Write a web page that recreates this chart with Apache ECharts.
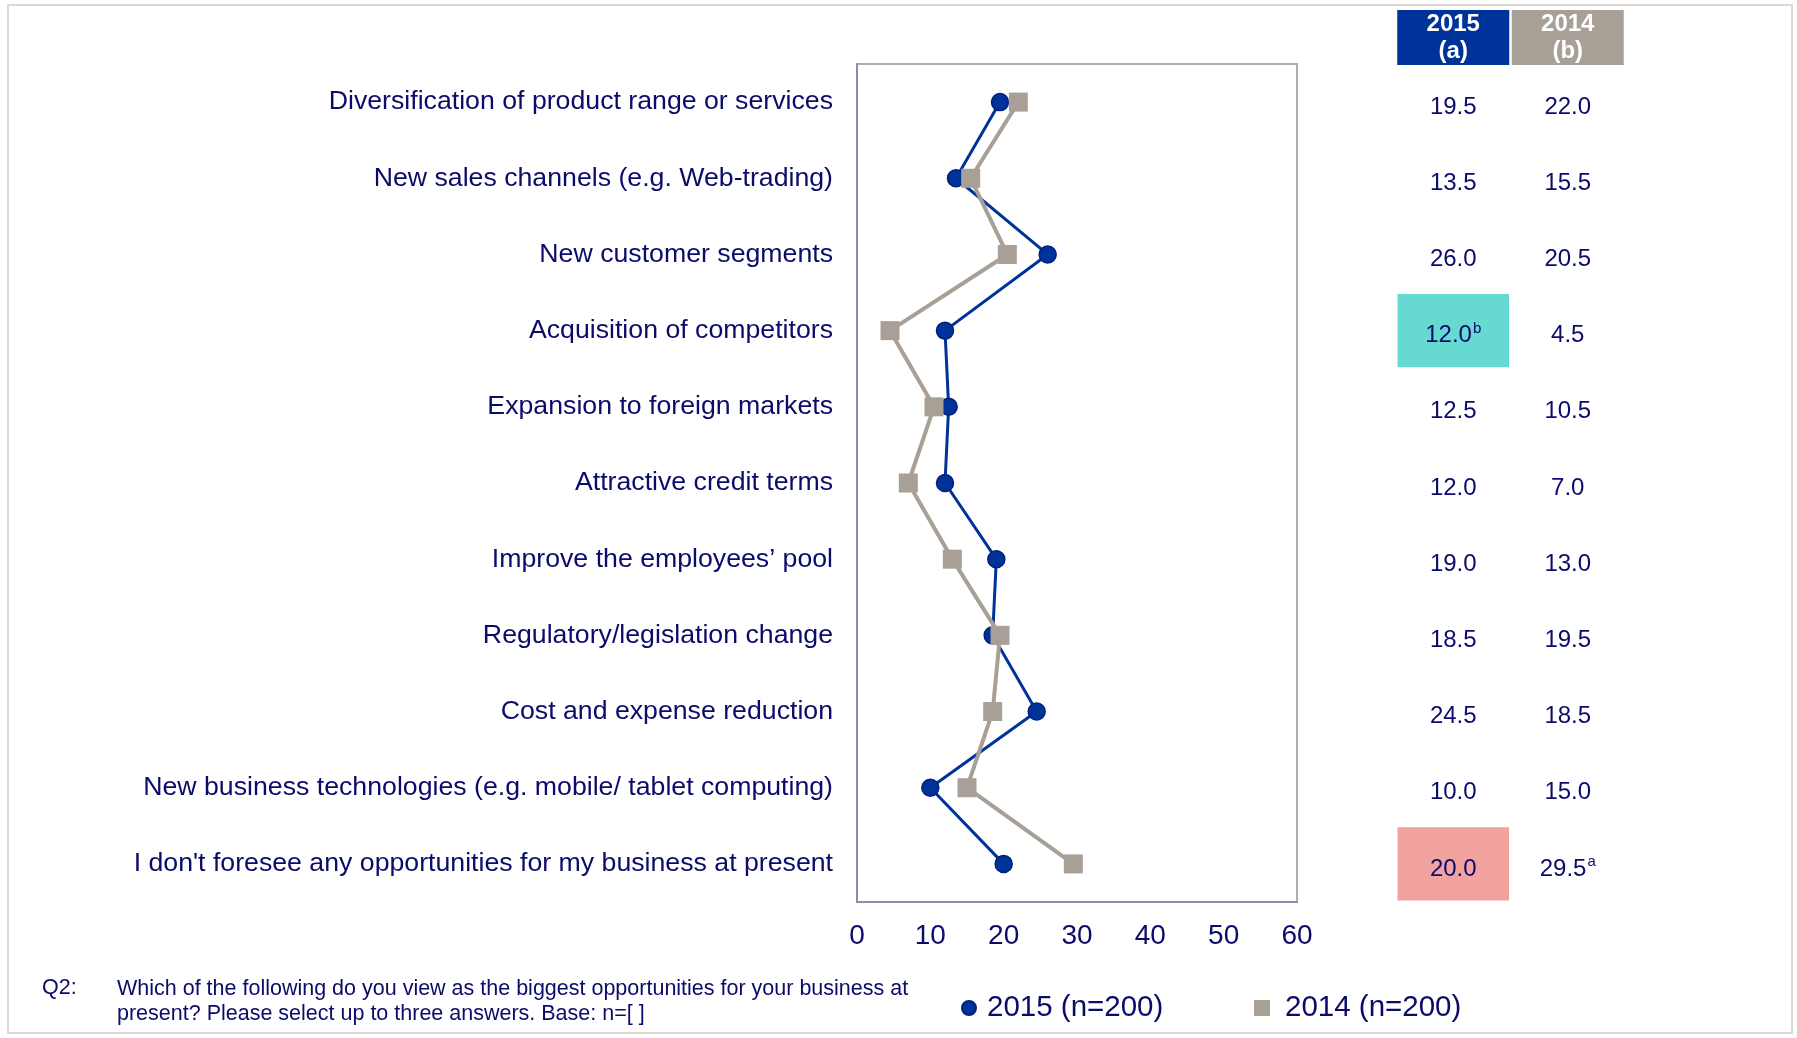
<!DOCTYPE html>
<html>
<head>
<meta charset="utf-8">
<script src="https://cdn.jsdelivr.net/npm/echarts@6/dist/echarts.min.js"></script>
<style>
html,body{margin:0;padding:0;background:#fff;}
#main{width:1797px;height:1038px;}
</style>
</head>
<body>
<div id="main"></div>
<script>
// ---- data ----
const categories = [
  'Diversification of product range or services',
  'New sales channels (e.g. Web-trading)',
  'New customer segments',
  'Acquisition of competitors',
  'Expansion to foreign markets',
  'Attractive credit terms',
  'Improve the employees\u2019 pool',
  'Regulatory/legislation change',
  'Cost and expense reduction',
  'New business technologies (e.g. mobile/ tablet computing)',
  "I don't foresee any opportunities for my business at present"
];
const values2015 = [19.5, 13.5, 26.0, 12.0, 12.5, 12.0, 19.0, 18.5, 24.5, 10.0, 20.0];
const values2014 = [22.0, 15.5, 20.5, 4.5, 10.5, 7.0, 13.0, 19.5, 18.5, 15.0, 29.5];
// significance: superscript letters and higher/lower flags
const sup2015 = ['', '', '', 'b', '', '', '', '', '', '', ''];
const sup2014 = ['', '', '', '', '', '', '', '', '', '', 'a'];
const sig2015 = ['', '', '', 'higher', '', '', '', '', '', '', 'lower'];
const sig2014 = ['', '', '', '', '', '', '', '', '', '', ''];
const seriesNames = ['2015 (n=200)', '2014 (n=200)'];
const tableHeaders = ['2015\n(a)', '2014\n(b)'];
const xTicks = [0, 10, 20, 30, 40, 50, 60];
const footnoteLabel = 'Q2:';
const footnoteLines = [
  'Which of the following do you view as the biggest opportunities for your business at',
  'present? Please select up to three answers. Base: n=[ ]'
];

// ---- styles ----
const NAVY = '#0b0b6b';
const BLUE = '#003399';
const GRAY = '#a89f96';
const SIGCOLOR = { higher: '#66d9d0', lower: '#f2a39f' };
const FONT = 'Liberation Sans, Arial, sans-serif';

const tableData = [];
for (let i = 0; i < categories.length; i++) {
  tableData.push([0, i, values2015[i].toFixed(1), sup2015[i], sig2015[i]]);
  tableData.push([1, i, values2014[i].toFixed(1), sup2014[i], sig2014[i]]);
}

const chart = echarts.init(document.getElementById('main'), null, { renderer: 'canvas' });

const option = {
  backgroundColor: '#fff',
  animation: false,
  textStyle: { fontFamily: FONT },
  grid: [
    { left: 857, right: 500, top: 64, bottom: 136, show: true, borderColor: '#b3ada6', borderWidth: 2, backgroundColor: '#fff' },
    { left: 1396, right: 172, top: 64, bottom: 136, show: false }
  ],
  xAxis: [
    {
      gridIndex: 0, type: 'value', min: xTicks[0], max: xTicks[xTicks.length - 1], interval: 10,
      axisLine: { show: true, lineStyle: { color: '#8a8fa6', width: 2 } },
      axisTick: { show: false }, splitLine: { show: false },
      axisLabel: { color: NAVY, fontSize: 28, margin: 20, fontFamily: FONT }
    },
    {
      gridIndex: 1, type: 'category', position: 'top',
      data: [
        { value: tableHeaders[0], textStyle: { backgroundColor: BLUE } },
        { value: tableHeaders[1], textStyle: { backgroundColor: GRAY } }
      ],
      axisLine: { show: false }, axisTick: { show: false }, splitLine: { show: false },
      axisLabel: {
        color: '#fff', fontWeight: 'bold', fontSize: 24, lineHeight: 27, fontFamily: FONT,
        width: 112, height: 55, align: 'center', verticalAlign: 'bottom', margin: -1,
        interval: 0
      }
    }
  ],
  yAxis: [
    {
      gridIndex: 0, type: 'category', data: categories, inverse: true,
      axisLine: { show: true, lineStyle: { color: '#8a8fa6', width: 2 } },
      axisTick: { show: false }, splitLine: { show: false },
      axisLabel: { color: NAVY, fontSize: 26.7, margin: 24, fontFamily: FONT, interval: 0, padding: [7, 0, 0, 0] }
    },
    {
      gridIndex: 1, type: 'category', data: categories, inverse: true,
      show: false
    }
  ],
  legend: [
    {
      data: [{ name: seriesNames[0], icon: 'circle' }],
      left: 956, top: 988, itemWidth: 14, itemHeight: 14,
      textStyle: { color: NAVY, fontSize: 29.5, fontFamily: FONT, padding: [0, 0, 0, 6] }
    },
    {
      data: [{ name: seriesNames[1], icon: 'rect' }],
      left: 1249, top: 988, itemWidth: 16, itemHeight: 16,
      textStyle: { color: NAVY, fontSize: 29.5, fontFamily: FONT, padding: [0, 0, 0, 10] }
    }
  ],
  series: [
    {
      name: seriesNames[0], type: 'line', xAxisIndex: 0, yAxisIndex: 0,
      data: values2015.map((v, i) => [v, i]),
      symbol: 'circle', symbolSize: 17,
      lineStyle: { color: BLUE, width: 3 },
      itemStyle: { color: BLUE, borderColor: '#00207a', borderWidth: 1.5 },
      z: 3
    },
    {
      name: seriesNames[1], type: 'line', xAxisIndex: 0, yAxisIndex: 0,
      data: values2014.map((v, i) => [v, i]),
      symbol: 'rect', symbolSize: 19,
      lineStyle: { color: GRAY, width: 4 },
      itemStyle: { color: GRAY },
      z: 4
    },
    {
      type: 'custom', xAxisIndex: 1, yAxisIndex: 1,
      data: tableData,
      encode: { x: 0, y: 1 },
      silent: true,
      renderItem: function (params, api) {
        const idx = params.dataIndex;
        const d = tableData[idx];
        const pt = api.coord([api.value(0), api.value(1)]);
        const sz = api.size([1, 1]);
        const children = [];
        if (d[4]) {
          children.push({
            type: 'rect',
            shape: { x: pt[0] - sz[0] / 2 + 1.5, y: pt[1] - sz[1] / 2 + 1.5, width: sz[0] - 3, height: sz[1] - 3 },
            style: { fill: SIGCOLOR[d[4]] }
          });
        }
        const txt = d[3] ? '{v|' + d[2] + '}{s|' + d[3] + '}' : '{v|' + d[2] + '}';
        children.push({
          type: 'text',
          x: pt[0], y: pt[1] + 5,
          style: {
            text: txt, align: 'center', verticalAlign: 'middle',
            rich: {
              v: { fontSize: 24, fill: NAVY, fontFamily: FONT, lineHeight: 28 },
              s: { fontSize: 15, fill: NAVY, fontFamily: FONT, lineHeight: 28, padding: [0, 0, 14, 1] }
            }
          }
        });
        return { type: 'group', children: children };
      }
    }
  ],
  graphic: [
    {
      type: 'rect', shape: { x: 8, y: 5, width: 1784, height: 1028 },
      style: { fill: 'none', stroke: '#ddd8d4', lineWidth: 2 }, z: -1, silent: true
    },
    {
      type: 'text', left: 42, top: 977,
      style: { text: footnoteLabel, fill: NAVY, fontSize: 21.5, fontFamily: FONT }
    },
    {
      type: 'text', left: 117, top: 977,
      style: { text: footnoteLines.join('\n'), fill: NAVY, fontSize: 21.5, lineHeight: 25, fontFamily: FONT }
    }
  ]
};
chart.setOption(option);
</script>
</body>
</html>
